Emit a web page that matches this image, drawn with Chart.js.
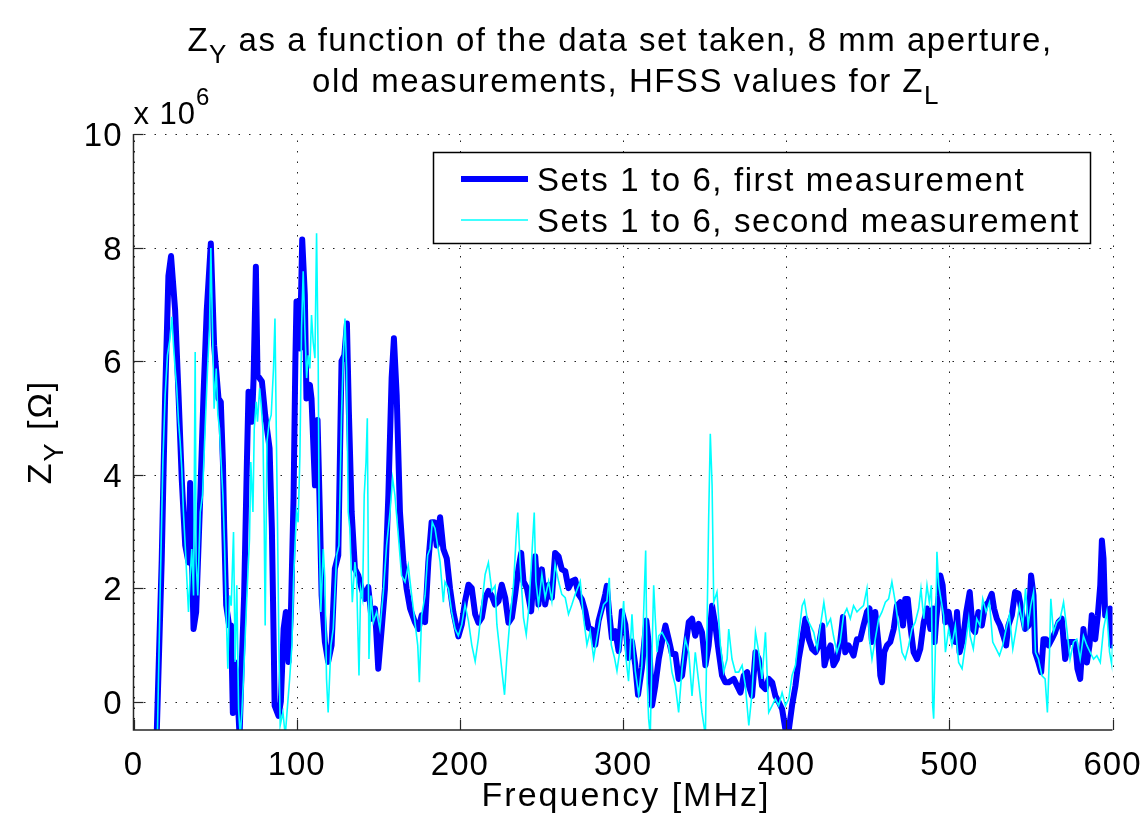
<!DOCTYPE html>
<html>
<head>
<meta charset="utf-8">
<title>Z_Y vs frequency</title>
<script src="https://cdn.jsdelivr.net/npm/chart.js@4/dist/chart.umd.min.js"></script>
<style>
  html, body { margin: 0; padding: 0; background: #fff; }
  #zyChart { display: block; }
</style>
</head>
<body>
<canvas id="zyChart" width="1146" height="815"></canvas>
<script>
// axis ticks
const xTicks = [0, 100, 200, 300, 400, 500, 600];
const yTicks = [0, 2, 4, 6, 8, 10];

// Sets 1 to 6, first measurement (MHz / x1e6 Ohm)
const blueFreq = [
  12, 14.3, 17.3, 19.4, 21.4, 23, 25.5, 27.6, 29.6, 31.7,
  33.7, 34.7, 36.8, 38.4, 40.9, 42.9, 44.9, 47.4, 49.4, 52.1,
  53.5, 54.8, 55.6, 56.8, 58.6, 59.8, 60.9, 61.9, 63.3, 65,
  66.4, 67.8, 69.5, 70.5, 72.6, 73.6, 75, 76, 78.7, 80.7,
  83.4, 84.8, 85.8, 86.5, 88.9, 90.3, 92, 93.4, 95, 96.5,
  98.1, 99.2, 99.9, 102, 103.4, 105, 106, 108.1, 109.1, 111.2,
  112.8, 114.2, 115.3, 117.3, 119.3, 121.4, 123.4, 125.5, 127.5, 129.2,
  130.8, 132, 133.7, 135.7, 137.8, 139.8, 141.8, 143.9, 145.9, 148,
  150, 152.1, 154.1, 156.2, 158.2, 159.6, 161.3, 163.3, 165.4, 167.4,
  169.5, 172.5, 174.6, 176.6, 178.7, 180.7, 182.7, 184.3, 185.8, 187.9,
  189.9, 192, 194, 196, 199.1, 201.2, 203.2, 205.3, 207.3, 209.4,
  211.4, 213.5, 215.5, 217.5, 219.6, 221.6, 223.7, 225.7, 227.8, 229.8,
  231.9, 233.9, 236, 237.6, 239, 241.1, 243.7, 246.2, 248.2, 250.3,
  252.3, 254.4, 256.4, 258.4, 260.5, 262.5, 264.6, 266.6, 268.7, 270.7,
  272.8, 274.8, 276.9, 278.9, 280.9, 283, 285, 287.1, 289.1, 290.1,
  291.6, 293.2, 295.3, 297.3, 299.3, 301.4, 303.4, 305.5, 307.5, 309.2,
  311.6, 314.3, 316.3, 317.8, 319.8, 321.9, 323.9, 326, 328, 330,
  332.1, 334.1, 336.2, 338.2, 340.3, 342.3, 344.3, 346.4, 348.4, 350.5,
  352.5, 354.6, 356.6, 358.7, 360.7, 362.7, 364.8, 367.9, 369.9, 372,
  374, 376.1, 377.1, 379.1, 381.2, 383.2, 385.2, 387.3, 389.3, 391.4,
  393.4, 395.5, 397.5, 399.6, 401.6, 403.6, 405.7, 407.7, 409.8, 411.8,
  413.9, 415.9, 418, 420, 422.1, 423.5, 425.5, 427.2, 429, 431.1,
  433.1, 434.8, 436.2, 438.2, 440.3, 441.3, 443.4, 445.4, 447.4, 449.5,
  451.1, 452.6, 454.6, 456.7, 457.7, 458.7, 460.1, 461.8, 463.8, 465.9,
  467.9, 469.9, 471.6, 473, 474.5, 476.1, 478.1, 480.2, 482.2, 484.3,
  486.3, 488.4, 490, 491, 492, 493.5, 494.5, 495.9, 497.6, 499.6,
  501.6, 503.7, 504.7, 506.3, 508.4, 510.4, 512.5, 514.3, 515.8, 517.8,
  519.9, 521.9, 523.9, 526, 527.4, 529.1, 531.1, 533.1, 534.8, 536.2,
  538.3, 540.3, 542.4, 544.4, 546.4, 548.5, 550.1, 551.6, 552.6, 554.6,
  556.3, 557.7, 559.3, 560.8, 562.8, 564.8, 566.9, 568.9, 571, 573,
  575, 577.1, 578.5, 580.2, 582.2, 584.3, 585.9, 587.3, 589.4, 591,
  592.5, 593.5, 594.5, 595.5, 597, 598.6, 599.4, 600
];
const blueZ = [
  -1.5, -0.5, 2.5, 5.4, 7.5, 7.85, 6.9, 5.4, 3.9, 2.75,
  2.45, 3.85, 1.28, 1.58, 3.6, 5.4, 6.9, 8.07, 6.28, 5.34,
  5.28, 4.22, 3.05, 1.7, 1.34, 1.34, -0.2, 0.7, 0.4, -0.6,
  0.7, 1.87, 4.22, 5.46, 4.93, 5.7, 7.66, 5.75, 5.64, 5.05,
  4.46, 3.05, 1.28, -0.07, -0.25, 0, 1.28, 1.58, 0.7, 1.58,
  3.6, 6.0, 7.05, 6.22, 8.14, 7.16, 5.34, 5.58, 5.34, 3.81,
  4.96, 3.34, 1.87, 1.05, 0.7, 0.99, 2.34, 2.58, 6.0, 6.1,
  6.66, 5.1, 3.34, 2.34, 2.22, 1.99, 1.81, 2.02, 1.46, 1.64,
  0.58, 1.28, 1.99, 3.64, 5.7, 6.4, 5.4, 3.34, 2.46, 1.99,
  1.64, 1.4, 1.28, 1.52, 1.4, 2.46, 3.16, 3.16, 2.75, 3.25,
  2.69, 2.52, 1.99, 1.58, 1.15, 1.36, 1.77, 2.06, 2.0, 1.54,
  1.39, 1.48, 1.83, 1.95, 1.86, 1.71, 1.77, 2.06, 1.83, 1.39,
  1.48, 1.89, 2.36, 2.62, 2.12, 2.0, 1.59, 2.56, 1.71, 2.33,
  1.71, 2.06, 1.83, 2.62, 2.56, 2.33, 2.3, 2.0, 2.12, 2.15,
  1.89, 1.8, 1.59, 1.3, 1.27, 1.0, 1.42, 1.65, 1.89, 2.04,
  1.54, 1.12, 1.24, 0.89, 1.59, 1.36, 0.77, 1.06, 0.65, 0.12,
  0.6, 1.43, 0.87, -0.07, 0.28, 0.75, 1.05, 1.34, 1.1, 0.84,
  0.84, 0.4, 0.46, 0.93, 1.4, 1.46, 1.16, 1.37, 1.22, 0.64,
  0.99, 1.69, 1.34, 0.87, 0.46, 0.34, 0.34, 0.4, 0.28, 0.16,
  0.46, 0.52, 0.28, 0.1, 0.87, 0.75, 0.28, 0.22, 0.4, 0.34,
  0.1, -0.01, -0.13, -0.5, -0.5, -0.07, 0.28, 0.75, 1.1, 1.46,
  1.1, 0.93, 0.87, 0.99, 1.34, 0.64, 0.87, 0.99, 0.64, 0.75,
  1.05, 1.49, 0.87, 0.99, 0.87, 0.81, 1.1, 1.1, 1.34, 1.58,
  1.64, 1.05, 1.58, 0.99, 0.46, 0.34, 0.87, 0.99, 1.05, 1.28,
  1.69, 1.75, 1.34, 1.81, 1.81, 1.34, 0.87, 0.75, 0.93, 1.4,
  1.64, 1.28, 1.64, 1.05, 1.46, 1.87, 2.22, 2.05, 1.4, 1.58,
  1.22, 1.05, 1.58, 0.87, 1.1, 1.58, 1.93, 1.28, 1.22, 1.58,
  1.34, 1.69, 1.75, 1.9, 1.64, 1.46, 1.34, 1.16, 0.99, 1.34,
  1.52, 1.93, 1.9, 1.58, 1.28, 1.34, 2.22, 1.87, 0.87, 0.69,
  0.52, 1.1, 1.1, 0.99, 1.1, 1.22, 1.4, 1.46, 0.75, 1.05,
  1.05, 1.05, 0.58, 0.4, 1.28, 0.69, 0.99, 1.52, 1.1, 1.52,
  2.05, 2.84, 2.52, 1.52, 1.52, 1.64, 0.99, 1.6
];

// Sets 1 to 6, second measurement
const cyanFreq = [
  12, 14.7, 16.3, 18, 19.4, 20.8, 22.4, 23.5, 24.5, 25.5,
  26.5, 27.6, 28.6, 29.6, 30.6, 31.7, 32.7, 33.7, 34.7, 35.7,
  36.8, 37.8, 38.4, 39.4, 40.9, 42.3, 43.9, 45.4, 46.6, 47.4,
  48.4, 49.4, 50.7, 51.7, 52.7, 53.7, 54.8, 55.8, 56.8, 57.8,
  58.9, 59.9, 61.3, 62.3, 63.3, 64.4, 65.4, 66.4, 67.4, 69.5,
  71.1, 71.9, 73.2, 74, 75.2, 76, 77.3, 78.1, 79.3, 80.1,
  80.7, 81.8, 83.2, 84.4, 85.8, 86.7, 87.5, 88.3, 89.1, 89.9,
  91.6, 93, 94.4, 95.7, 97.1, 98.1, 99.9, 100.9, 102, 103,
  104, 105, 106.1, 107.1, 108.1, 109.1, 110.1, 111.2, 112.2, 113.2,
  113.8, 114.8, 116.3, 117.3, 118.3, 119.3, 121, 122.4, 124.5, 125.9,
  127.5, 128.6, 129.6, 130.6, 131.6, 132.6, 134.1, 135.7, 136.7, 138.2,
  139.2, 140.4, 141.4, 142.5, 143.3, 144.3, 145.5, 147, 149, 151,
  153.1, 155.1, 157.2, 158.8, 160.2, 162.3, 164.3, 166.4, 168.4, 170.5,
  172.5, 174.2, 175.2, 176.6, 178.7, 180.3, 181.7, 183.1, 184.8, 186.4,
  187.9, 189.9, 190.9, 193, 195, 197.1, 199.1, 201.2, 203.2, 205.3,
  207.3, 209.4, 211.4, 213.5, 215.5, 217.5, 219.6, 221.6, 222.7, 224.7,
  227.4, 228.8, 230.8, 232.9, 234.5, 235.5, 237, 239, 240.7, 242.1,
  243.7, 245.6, 246.6, 248.2, 250.3, 252.3, 254.4, 256.4, 258.4, 260.5,
  262.5, 264.6, 266.6, 268.7, 270.7, 273.8, 275.8, 277.9, 279.9, 282,
  284, 286.1, 288.1, 290.1, 291.6, 292.8, 294.8, 296.3, 298.3, 300.4,
  301.8, 303.4, 305.5, 307.5, 309.6, 311.6, 313.9, 314.9, 315.7, 316.7,
  317.8, 318.8, 319.8, 320.9, 321.9, 323.9, 326, 328, 330, 332.1,
  334.1, 336.2, 338.2, 340.3, 342.3, 344.3, 346.4, 348.4, 350.5, 352.5,
  353.5, 354.6, 355.6, 357.6, 359.7, 361.7, 363.8, 364.8, 366.8, 368.9,
  370.9, 373, 375, 377.1, 379.1, 381.2, 383.2, 385.2, 387.3, 389.3,
  391.4, 393.4, 395.4, 397.5, 399.6, 401.6, 403.6, 405.7, 407.7, 409.8,
  411.2, 412.9, 414.9, 416.9, 419, 421, 423.1, 425.1, 427.2, 429,
  431.1, 433.1, 435.2, 437.2, 439.3, 441.3, 443.4, 445.4, 447.4, 449.5,
  451.1, 452.6, 454.6, 456.7, 458.7, 460.8, 462.8, 464.8, 466.9, 468.9,
  471, 473, 475.1, 477.1, 479.1, 481.2, 482.6, 484.3, 486.3, 487.7,
  489, 489.8, 490.4, 491.4, 492.4, 493.5, 494.5, 496.5, 497.6, 499.6,
  501.6, 503.7, 505.7, 507.8, 509.8, 511.9, 512.7, 514.7, 516.8, 518.8,
  520.5, 522.5, 524.6, 526.6, 528.7, 530.7, 532.7, 534.8, 536.8, 538.9,
  540.9, 543, 545, 546.7, 548.3, 549.9, 551.6, 552.8, 554.6, 556.7,
  558.7, 560.1, 561.4, 562.2, 563.8, 565.9, 567.9, 570, 572, 574,
  576.1, 578.1, 580.2, 582.2, 584.3, 586.3, 588.4, 590.4, 592.5, 594.5,
  596.5, 598.2, 599.6, 600
];
const cyanZ = [
  -1.5, -0.5, 1.87, 4.22, 5.4, 6.1, 6.4, 6.78, 6.28, 5.87,
  5.52, 4.93, 4.58, 4.1, 3.34, 2.75, 2.16, 1.58, 2.2, 2.69,
  1.87, 6.16, 2.46, 1.87, 3.34, 3.64, 4.81, 5.87, 6.58, 7.99,
  6.58, 5.16, 5.87, 5.05, 4.81, 4.22, 3.64, 2.75, 1.58, 0.58,
  1.87, 1.69, 2.99, 0.7, 2.05, -0.13, -0.6, -0.19, 0.4, 1.87,
  2.87, 4.22, 3.34, 4.81, 5.28, 4.93, 5.52, 5.28, 4.81, 3.16,
  1.34, 4.58, 4.93, 5.05, 5.87, 6.75, 4.81, 3.05, 0.99, -0.42,
  -0.19, -0.6, -0.07, 0.4, 0.99, 2.16, 3.34, 3.16, 4.34, 6.58,
  7.58, 6.6, 5.7, 6.1, 5.87, 6.81, 6.34, 6.05, 8.25, 5.99,
  3.05, 1.58, 2.69, 2.16, 0.4, -0.19, 0.99, 1.28, 2.58, 2.75,
  5.05, 6.1, 6.75, 5.87, 3.34, 3.05, 1.75, 2.46, 2.2, 0.46,
  1.99, 1.81, 3.64, 4.22, 4.99, 0.75, 1.87, 1.4, 1.58, 1.28,
  1.93, 2.75, 3.34, 3.93, 3.64, 2.93, 2.22, 2.11, 2.4, 1.87,
  1.4, 0.99, 0.34, 1.52, 1.87, 2.58, 2.69, 3.16, 3.05, 2.75,
  2.46, 1.75, 2.11, 1.99, 1.58, 1.28, 1.16, 1.36, 1.71, 1.42,
  1.0, 0.71, 1.12, 1.71, 2.24, 2.45, 1.95, 2.04, 1.36, 0.83,
  0.12, 0.77, 1.48, 2.06, 2.89, 3.33, 2.42, 1.48, 1.18, 1.59,
  2.36, 3.33, 2.12, 1.71, 2.24, 1.83, 2.12, 1.77, 2.42, 2.12,
  1.89, 1.83, 1.54, 1.71, 1.89, 2.12, 1.48, 1.0, 1.24, 0.77,
  1.12, 1.48, 1.71, 1.77, 2.18, 1.0, 0.77, 0.54, 0.95, 1.77,
  0.77, 0.36, 1.54, 0.54, 0.12, 0.65, 2.66, 0.3, -0.3, -0.6,
  0.87, 2.05, 1.46, 0.87, 1.16, 1.22, 1.1, 0.99, 0.52, 0.28,
  -0.19, 0.58, 1.1, 0.87, 0.1, 0.87, 0.34, -0.19, -0.6, 3.22,
  4.72, 3.81, 1.75, 1.93, 0.99, 0.52, 0.75, 1.28, 0.75, 0.52,
  0.52, 0.64, 0.28, -0.42, 0.16, 1.22, 0.87, 0.4, 1.22, -0.19,
  -0.07, 0.05, -0.07, 0.16, -0.07, 0.05, 0.46, 0.64, 1.16, 1.69,
  1.78, 1.46, 1.34, 1.22, 0.93, 1.34, 1.75, 1.34, 1.46, 1.16,
  0.87, 1.05, 1.52, 1.64, 1.46, 1.69, 1.58, 1.64, 1.69, 1.99,
  1.1, 0.75, 1.1, 1.46, 1.58, 1.75, 1.81, 2.11, 1.75, 1.34,
  0.87, 0.75, 0.99, 1.28, 1.4, 1.64, 1.99, 1.46, 2.05, 1.75,
  2.05, -0.07, -0.3, 0.87, 2.64, 2.05, 1.87, 1.52, 0.87, 1.28,
  0.99, 1.34, 0.69, 0.58, 0.99, 1.46, 1.16, 0.93, 1.46, 1.34,
  1.81, 1.58, 1.75, 1.05, 0.93, 0.81, 0.99, 1.28, 1.52, 0.93,
  1.28, 1.69, 1.34, 1.99, 1.34, 1.69, 1.93, 0.87, 0.75, 0.46,
  0.4, -0.19, 0.87, 1.81, 1.22, 1.4, 1.46, 1.75, 1.28, 0.75,
  1.05, 1.1, 0.75, 1.16, 0.99, 0.87, 0.75, 0.81, 0.69, 1.28,
  1.58, 0.87, 0.64, 1.0
];

const seriesLabels = ['Sets 1 to 6, first measurement', 'Sets 1 to 6, second measurement'];

const FONT = '"Liberation Sans", Arial, Helvetica, sans-serif';
const toPoints = (xs, ys) => xs.map((x, i) => ({ x: x, y: ys[i] }));

// draws text made of [string, 'sub'|'sup'|null] pieces
function richText(ctx, parts, x, y, align, size) {
  const small = Math.round(size * 0.78);
  let widths = parts.map(p => {
    ctx.font = (p[1] ? small : size) + 'px ' + FONT;
    return ctx.measureText(p[0]).width;
  });
  const total = widths.reduce((a, b) => a + b, 0);
  let cx = align === 'center' ? x - total / 2 : (align === 'right' ? x - total : x);
  ctx.textAlign = 'left';
  ctx.textBaseline = 'alphabetic';
  parts.forEach((p, i) => {
    ctx.font = (p[1] ? small : size) + 'px ' + FONT;
    let dy = 0;
    if (p[1] === 'sub') dy = size * 0.36;
    if (p[1] === 'sup') dy = -size * 0.62;
    ctx.fillText(p[0], cx, y + dy);
    cx += widths[i];
  });
}

const matlabLook = {
  id: 'matlabLook',
  beforeDatasetsDraw(chart) {
    const { ctx, chartArea: a, scales: { x, y } } = chart;
    ctx.save();
    ctx.strokeStyle = '#222';
    ctx.lineWidth = 1;
    ctx.setLineDash([1.5, 9]);
    xTicks.forEach(t => {
      const px = Math.round(x.getPixelForValue(t)) + 0.5;
      ctx.beginPath(); ctx.moveTo(px, a.bottom); ctx.lineTo(px, a.top); ctx.stroke();
    });
    yTicks.forEach(t => {
      const py = Math.round(y.getPixelForValue(t)) + 0.5;
      ctx.beginPath(); ctx.moveTo(a.left, py); ctx.lineTo(a.right, py); ctx.stroke();
    });
    ctx.restore();
  },
  afterDatasetsDraw(chart) {
    const { ctx, chartArea: a, scales: { x, y } } = chart;
    ctx.save();
    // axes and inward ticks
    ctx.strokeStyle = '#262626';
    ctx.lineWidth = 1.5;
    ctx.beginPath();
    ctx.moveTo(a.left, a.top); ctx.lineTo(a.left, a.bottom); ctx.lineTo(a.right, a.bottom);
    ctx.stroke();
    ctx.lineWidth = 1.2;
    xTicks.forEach(t => {
      const px = Math.round(x.getPixelForValue(t)) + 0.5;
      ctx.beginPath(); ctx.moveTo(px, a.bottom); ctx.lineTo(px, a.bottom - 10); ctx.stroke();
    });
    yTicks.forEach(t => {
      const py = Math.round(y.getPixelForValue(t)) + 0.5;
      ctx.beginPath(); ctx.moveTo(a.left, py); ctx.lineTo(a.left + 10, py); ctx.stroke();
    });

    ctx.fillStyle = '#000';
    ctx.letterSpacing = '1px';
    // tick labels
    xTicks.forEach(t => richText(ctx, [[String(t)]], x.getPixelForValue(t), 775, 'center', 33));
    yTicks.forEach(t => richText(ctx, [[String(t)]], a.left - 11, y.getPixelForValue(t) + 12, 'right', 33));
    // exponent
    richText(ctx, [['x 10'], ['6', 'sup']], a.left, 124, 'left', 31);

    // axis labels
    ctx.letterSpacing = '2px';
    richText(ctx, [['Frequency [MHz]']], 626, 806, 'center', 34);
    ctx.save();
    ctx.translate(51, 432);
    ctx.rotate(-Math.PI / 2);
    richText(ctx, [['Z'], ['Y', 'sub'], [' [Ω]']], 0, 0, 'center', 34);
    ctx.restore();

    // title
    ctx.letterSpacing = '1.5px';
    richText(ctx, [['Z'], ['Y', 'sub'], [' as a function of the data set taken, 8 mm aperture,']], 620, 51, 'center', 33);
    richText(ctx, [['old measurements, HFSS values for Z'], ['L', 'sub']], 626, 92, 'center', 33);

    // legend box
    ctx.letterSpacing = '1.6px';
    ctx.fillStyle = '#fff';
    ctx.fillRect(433, 152, 657, 91);
    ctx.strokeStyle = '#000';
    ctx.lineWidth = 1.5;
    ctx.strokeRect(433.5, 152.5, 657, 91);
    const ds = chart.data.datasets;
    [[179, ds[1]], [220, ds[0]]].forEach(([ly, d], i) => {
      ctx.strokeStyle = d.borderColor;
      ctx.lineWidth = d.borderWidth;
      ctx.beginPath(); ctx.moveTo(461, ly); ctx.lineTo(528, ly); ctx.stroke();
      ctx.fillStyle = '#000';
      richText(ctx, [[seriesLabels[i]]], 537, ly + 12, 'left', 33);
    });
    ctx.restore();
  }
};

new Chart(document.getElementById('zyChart'), {
  type: 'line',
  data: {
    datasets: [
      {
        label: seriesLabels[1],
        data: toPoints(cyanFreq, cyanZ),
        borderColor: '#00FFFF',
        borderWidth: 1.6,
        order: 0
      },
      {
        label: seriesLabels[0],
        data: toPoints(blueFreq, blueZ),
        borderColor: '#0000FF',
        borderWidth: 6,
        borderJoinStyle: 'round',
        borderCapStyle: 'round',
        order: 1
      }
    ]
  },
  options: {
    responsive: false,
    animation: false,
    devicePixelRatio: 1,
    layout: { padding: { top: 134, right: 33.5, bottom: 0, left: 0 } },
    elements: { point: { radius: 0 }, line: { tension: 0 } },
    datasets: { line: { clip: 0 } },
    plugins: { legend: { display: false }, tooltip: { enabled: false } },
    scales: {
      x: {
        type: 'linear', min: 0, max: 600,
        afterBuildTicks: s => { s.ticks = xTicks.map(v => ({ value: v })); },
        afterFit: s => { s.height = 85; },
        ticks: { display: false },
        grid: { display: false },
        border: { display: false }
      },
      y: {
        type: 'linear', min: -0.5, max: 10,
        afterBuildTicks: s => { s.ticks = yTicks.map(v => ({ value: v })); },
        afterFit: s => { s.width = 133.5; },
        ticks: { display: false },
        grid: { display: false },
        border: { display: false }
      }
    }
  },
  plugins: [matlabLook]
});
</script>
</body>
</html>
